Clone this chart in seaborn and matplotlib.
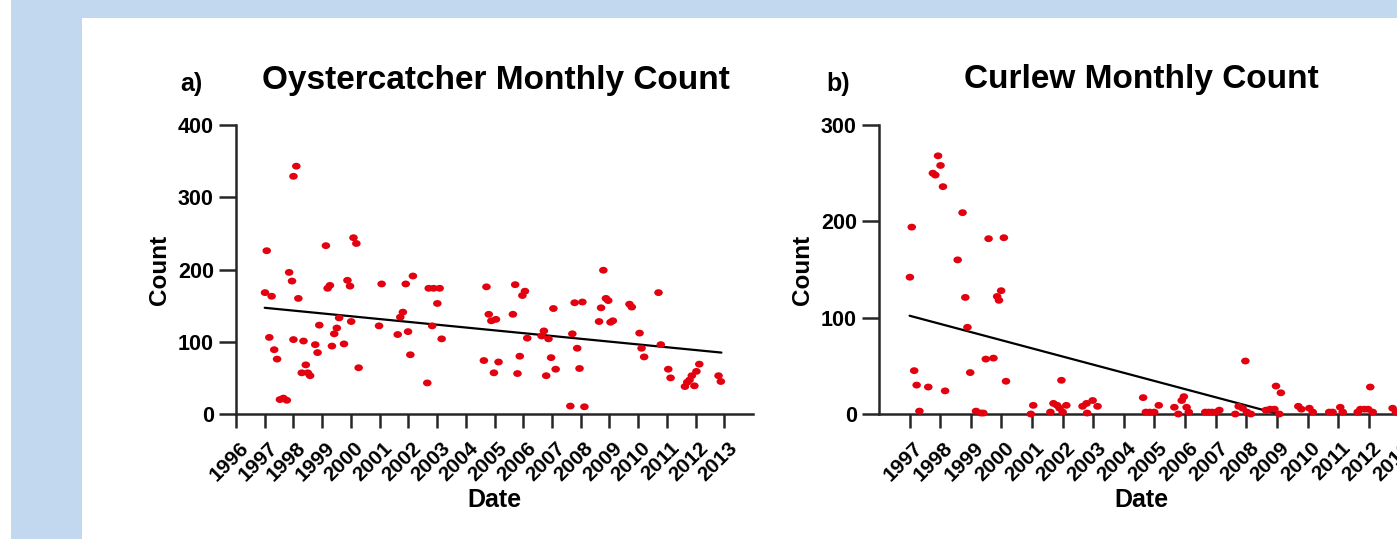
import numpy as np
import pandas as pd
import matplotlib
matplotlib.use("Agg")
import matplotlib.pyplot as plt
from matplotlib.path import Path
from matplotlib.patches import Rectangle
from matplotlib.transforms import ScaledTranslation
import seaborn as sns

# ---------------- data ----------------
oyster_year = [1997.01, 1997.07, 1997.24, 1997.16, 1997.33, 1997.43, 1997.53, 1997.65, 1997.77,
               1997.85, 1997.95, 1998.00, 1998.10, 1998.00, 1998.17, 1998.29, 1998.35, 1998.43,
               1998.50, 1998.58, 1998.76, 1998.84, 1998.90, 1999.13, 1999.19, 1999.27, 1999.34,
               1999.42, 1999.51, 1999.59, 1999.76, 1999.88, 1999.97, 2000.01, 2000.09, 2000.19,
               2000.27, 2000.98, 2001.07, 2001.63, 2001.72, 2001.81, 2001.91, 2001.99, 2002.07,
               2002.16, 2002.66, 2002.71, 2002.83, 2002.88, 2003.01, 2003.09, 2003.16,
               2004.63, 2004.72, 2004.80, 2004.89, 2004.98, 2005.05, 2005.14, 2005.64, 2005.72,
               2005.80, 2005.88, 2005.97, 2006.06, 2006.14, 2006.64, 2006.72, 2006.80, 2006.88,
               2006.97, 2007.05, 2007.13, 2007.64, 2007.71, 2007.79, 2007.88, 2007.96, 2008.06,
               2008.13, 2008.64, 2008.71, 2008.79, 2008.88, 2008.96, 2009.04, 2009.12, 2009.70,
               2009.78, 2010.05, 2010.12, 2010.21, 2010.71, 2010.79, 2011.05, 2011.13, 2011.63,
               2011.71, 2011.79, 2011.87, 2011.96, 2012.03, 2012.13, 2012.80, 2012.88]
oyster_count = [168, 226, 163, 106, 89, 76, 20, 22, 19,
                196, 184, 329, 343, 103, 160, 57, 101, 68,
                57, 53, 96, 85, 123, 233, 174, 178, 94,
                111, 119, 133, 97, 185, 177, 128, 244, 236,
                64, 122, 180, 110, 134, 141, 180, 114, 82,
                191, 43, 174, 122, 174, 153, 174, 104,
                74, 176, 138, 129, 57, 131, 72, 138, 179,
                56, 80, 164, 170, 105, 108, 115, 53, 104,
                78, 146, 62, 11, 111, 154, 91, 63, 155,
                10, 128, 147, 199, 160, 157, 127, 129, 152,
                148, 112, 91, 79, 168, 96, 62, 50, 38,
                44, 47, 53, 39, 59, 69, 53, 45]

curlew_year = [1997.01, 1997.07, 1997.15, 1997.23, 1997.32, 1997.61, 1997.76, 1997.84, 1997.93,
               1998.01, 1998.09, 1998.16, 1998.57, 1998.73, 1998.82, 1998.89, 1998.98, 1999.17,
               1999.33, 1999.41, 1999.49, 1999.58, 1999.74, 1999.86, 1999.92, 1999.99, 2000.08,
               2000.15, 2000.96, 2001.04, 2001.60, 2001.70, 2001.82, 2001.90, 2001.96, 2002.00,
               2002.12, 2002.65, 2002.78, 2002.80, 2002.98, 2003.14, 2004.63, 2004.72, 2004.85,
               2004.99, 2005.14, 2005.65, 2005.78, 2005.89, 2005.96, 2006.05, 2006.12, 2006.66,
               2006.77, 2006.88, 2007.01, 2007.12, 2007.64, 2007.75, 2007.88, 2007.97, 2008.02,
               2008.15, 2008.64, 2008.78, 2008.92, 2008.97, 2009.08, 2009.13, 2009.70, 2009.80,
               2010.06, 2010.17, 2010.71, 2010.82, 2011.07, 2011.15, 2011.64, 2011.73, 2011.86,
               2011.98, 2012.05, 2012.13, 2012.78, 2012.89]
curlew_count = [142, 194, 45, 30, 3, 28, 250, 248, 268,
                258, 236, 24, 160, 209, 121, 90, 43, 3,
                1, 1, 57, 182, 58, 122, 118, 128, 183,
                34, 0, 9, 2, 11, 9, 6, 35, 2,
                9, 8, 11, 1, 14, 8, 17, 2, 2,
                2, 9, 7, 0, 14, 18, 7, 2, 2,
                2, 2, 2, 4, 0, 8, 6, 55, 2,
                0, 4, 5, 5, 29, 0, 22, 8, 5,
                6, 2, 2, 2, 7, 2, 2, 5, 5,
                5, 28, 2, 6, 2]

# fitted trend lines (end points)
oyster_trend_year = [1997.0, 2012.9]
oyster_trend_count = [147, 85]
curlew_trend_year = [1997.0, 2009.05]
curlew_trend_count = [102, 0]

oyster_ticks = list(range(1996, 2014))
curlew_ticks = list(range(1997, 2014))
oyster_yticks = [0, 100, 200, 300, 400]
curlew_yticks = [0, 100, 200, 300]

# ---------------- style ----------------
sns.set_theme(style="ticks")
plt.rcParams["font.family"] = ["Liberation Sans", "DejaVu Sans"]
plt.rcParams["font.weight"] = "bold"
plt.rcParams["text.color"] = "black"
plt.rcParams["axes.labelcolor"] = "black"
plt.rcParams["xtick.color"] = "black"
plt.rcParams["ytick.color"] = "black"

W, H = 1397, 539
fig = plt.figure(figsize=(W / 100, H / 100), dpi=100)
fig.patch.set_facecolor("white")

blue = "#c1d8ee"
fig.patches.append(Rectangle((11 / W, 0), (82 - 11) / W, 1, transform=fig.transFigure,
                             facecolor=blue, edgecolor="none", zorder=-10))
fig.patches.append(Rectangle((11 / W, 1 - 18 / H), 1, 18 / H, transform=fig.transFigure,
                             facecolor=blue, edgecolor="none", zorder=-10))

# ellipse marker (reference dots are slightly wider than tall)
circ = Path.unit_circle()
ell = Path(circ.vertices * np.array([1.25, 1.0]), circ.codes)

red = "#e3000f"
spine_col = "#262626"

bottom = (H - 414) / H
height = 289 / H
ax1 = fig.add_axes([236 / W, bottom, 517 / W, height])
ax2 = fig.add_axes([879 / W, bottom, 524 / W, height])

df_o = pd.DataFrame({"Date": oyster_year, "Count": oyster_count})
df_c = pd.DataFrame({"Date": curlew_year, "Count": curlew_count})
df_ot = pd.DataFrame({"Date": oyster_trend_year, "Count": oyster_trend_count})
df_ct = pd.DataFrame({"Date": curlew_trend_year, "Count": curlew_trend_count})

label_shift = ScaledTranslation(0.03, -0.05, fig.dpi_scale_trans)


def style_axis(ax, df, dft, xlim, xticks, ylim, yticks):
    sns.lineplot(data=dft, x="Date", y="Count", ax=ax, color="black", lw=1.6, zorder=2, sort=False)
    sns.scatterplot(data=df, x="Date", y="Count", ax=ax, color=red, marker=ell, s=38,
                    edgecolor="none", zorder=3, clip_on=False)
    ax.set_xlim(*xlim)
    ax.set_ylim(*ylim)
    ax.set_xticks(xticks)
    ax.set_yticks(yticks)
    ax.tick_params(axis="x", length=10, width=1.8, color=spine_col, pad=4)
    ax.tick_params(axis="y", length=12, width=1.8, color=spine_col, pad=4)
    ax.set_xticklabels([str(t) for t in xticks], rotation=45, ha="right", va="top",
                       rotation_mode="anchor", fontsize=15, fontweight="bold")
    ax.set_yticklabels([str(t) for t in yticks], fontsize=15.5, fontweight="bold")
    for tick in ax.xaxis.get_major_ticks():
        tick.label1.set_transform(tick.label1.get_transform() + label_shift)
    for s in ["top", "right"]:
        ax.spines[s].set_visible(False)
    for s in ["left", "bottom"]:
        ax.spines[s].set_color(spine_col)
        ax.spines[s].set_linewidth(1.8)
    ax.set_facecolor("none")
    ax.set_xlabel("Date", fontsize=18, fontweight="bold", labelpad=2)
    ax.set_ylabel("Count", fontsize=17.5, fontweight="bold", labelpad=5)


style_axis(ax1, df_o, df_ot, (1996, 2014), oyster_ticks, (0, 400), oyster_yticks)
style_axis(ax2, df_c, df_ct, (1996, 2013.12), curlew_ticks, (0, 300), curlew_yticks)

fig.text(495.5 / W, 1 - 89 / H, "Oystercatcher Monthly Count", ha="center", va="baseline",
         fontsize=24, fontweight="bold")
fig.text(180 / W, 1 - 91 / H, "a)", ha="left", va="baseline", fontsize=18, fontweight="bold")
fig.text(1141 / W, 1 - 88 / H, "Curlew Monthly Count", ha="center", va="baseline",
         fontsize=24, fontweight="bold")
fig.text(826 / W, 1 - 91 / H, "b)", ha="left", va="baseline", fontsize=18, fontweight="bold")

fig.savefig("out.png", dpi=100, facecolor=fig.get_facecolor())
